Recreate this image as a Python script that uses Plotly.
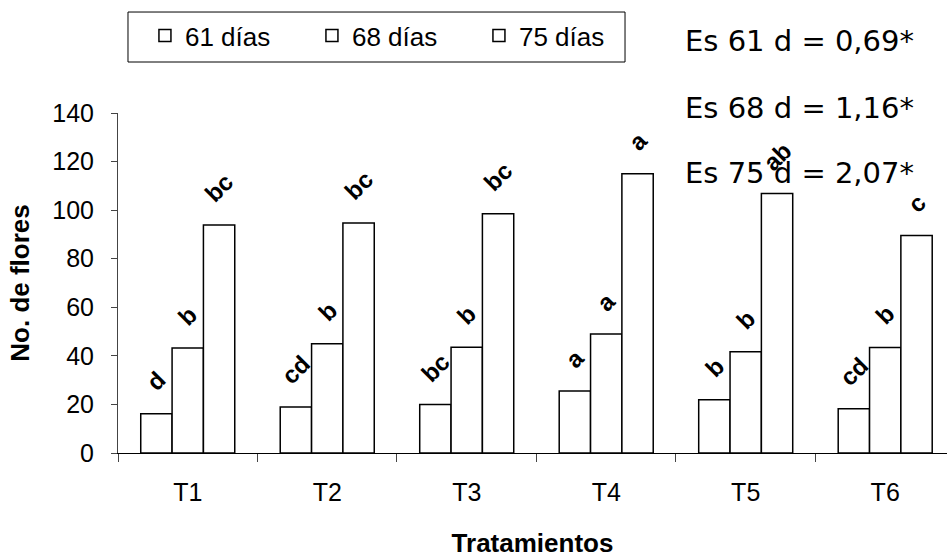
import plotly.graph_objects as go

categories = ["T1", "T2", "T3", "T4", "T5", "T6"]
series_names = ["61 días", "68 días", "75 días"]
values_61 = [16.2, 18.9, 20.0, 25.5, 21.9, 18.2]
values_68 = [43.2, 45.0, 43.5, 49.0, 41.7, 43.4]
values_75 = [93.9, 94.7, 98.5, 115.0, 106.9, 89.6]
letters_61 = ["d", "cd", "bc", "a", "b", "cd"]
letters_68 = ["b", "b", "b", "a", "b", "b"]
letters_75 = ["bc", "bc", "bc", "a", "ab", "c"]
es_labels = ["Es 61 d = 0,69*", "Es 68 d = 1,16*", "Es 75 d = 2,07*"]
y_ticks = [0, 20, 40, 60, 80, 100, 120, 140]

series_values = [values_61, values_68, values_75]
series_letters = [letters_61, letters_68, letters_75]

fig = go.Figure()
for name, vals in zip(series_names, series_values):
    fig.add_trace(go.Bar(
        x=categories, y=vals, name=name,
        marker=dict(color="white", line=dict(color="black", width=1.5)),
    ))

bargap = 0.326
bar_w = (1 - bargap) / 3
annotations = []
for k, letters in enumerate(series_letters):
    for i, (lab, v) in enumerate(zip(letters, series_values[k])):
        annotations.append(dict(
            x=i + (k - 1) * bar_w, y=v, xref="x", yref="y",
            text=lab, showarrow=False, textangle=-45,
            font=dict(family="Liberation Sans", size=24, color="black", weight="bold"),
            xanchor="center", yanchor="bottom", yshift=15,
        ))

es_y = [1.213, 1.016, 0.825]
for t, yy in zip(es_labels, es_y):
    annotations.append(dict(
        x=0.681, y=yy, xref="paper", yref="paper", text=t, showarrow=False,
        xanchor="left", yanchor="middle",
        font=dict(family="DejaVu Sans", size=29, color="black"),
    ))

fig.update_layout(
    width=947, height=558,
    margin=dict(l=118, r=0, t=113, b=105),
    paper_bgcolor="white", plot_bgcolor="white",
    barmode="group", bargap=bargap, bargroupgap=0,
    font=dict(family="Liberation Sans", color="black"),
    showlegend=True,
    legend=dict(
        orientation="h", x=0.0325, y=1.297, xanchor="left", yanchor="top",
        borderwidth=0, bgcolor="rgba(0,0,0,0)",
        font=dict(family="Liberation Sans", size=26, color="black"),
        entrywidth=122, entrywidthmode="pixels",
        traceorder="normal",
    ),
    shapes=[dict(
        type="rect", xref="paper", yref="paper",
        x0=0.01206, x1=0.6116, y0=1.15, y1=1.297,
        line=dict(color="black", width=1), fillcolor="rgba(0,0,0,0)", layer="below",
    )],
    annotations=annotations,
)
fig.update_xaxes(
    type="category", range=[-0.5, 5.443],
    showline=True, linecolor="black", linewidth=1,
    ticks="outside", tickson="boundaries", ticklen=8, tickcolor="#444",
    tickfont=dict(family="Liberation Sans", size=25, color="black"),
    ticklabelstandoff=17,
    title=dict(text="<b>Tratamientos</b>", font=dict(family="Liberation Sans", size=26, color="black"), standoff=30),
    showgrid=False, zeroline=False,
)
fig.update_yaxes(
    range=[0, 140], tickvals=y_ticks,
    showline=True, linecolor="#444", linewidth=1,
    ticks="outside", ticklen=6, tickcolor="#444",
    tickfont=dict(family="Liberation Sans", size=25, color="black"),
    ticklabelstandoff=12,
    title=dict(text="<b>No. de flores</b>", font=dict(family="Liberation Sans", size=26, color="black"), standoff=15),
    showgrid=False, zeroline=False,
)

fig.write_html("out.html")
